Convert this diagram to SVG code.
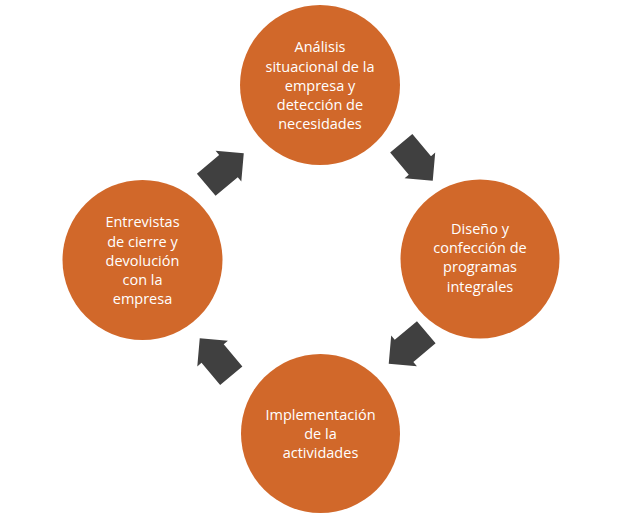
<svg xmlns="http://www.w3.org/2000/svg" width="623" height="520" viewBox="0 0 623 520">
<style>
.node circle{fill:#D1682A}
.node text{font-family:"Open Sans","Liberation Sans",sans-serif;font-size:14.5px;fill:#FFFFFF;text-anchor:middle}
.arrow{fill:#404040}
</style>
<defs>
<path id="arr" d="M-24.5,-14.5 L4.5,-14.5 L4.5,-20 L24.5,0 L4.5,20 L4.5,14.5 L-24.5,14.5 Z"/>
</defs>
<rect width="623" height="520" fill="#FFFFFF"/>
<g id="connectors">
<use href="#arr" class="arrow" transform="translate(225,169) rotate(-40)"/>
<use href="#arr" class="arrow" transform="translate(417,162) rotate(50)"/>
<use href="#arr" class="arrow" transform="translate(407.5,348) rotate(140)"/>
<use href="#arr" class="arrow" transform="translate(215.5,357) rotate(230)"/>
</g>
<g id="node-analisis" class="node">
<circle cx="320" cy="85" r="80"/>
<text x="320" y="52.3">Análisis</text>
<text x="320" y="71.5">situacional de la</text>
<text x="320" y="90.7">empresa y</text>
<text x="320" y="109.9">detección de</text>
<text x="320" y="129.1">necesidades</text>
</g>
<g id="node-diseno" class="node">
<circle cx="480" cy="259" r="79.5"/>
<text x="480" y="234">Diseño y</text>
<text x="480" y="253.2">confección de</text>
<text x="480" y="272.4">programas</text>
<text x="480" y="291.6">integrales</text>
</g>
<g id="node-implementacion" class="node">
<circle cx="320.5" cy="433.5" r="79.5"/>
<text x="320.5" y="420">Implementación</text>
<text x="320.5" y="439.2">de la</text>
<text x="320.5" y="458.4">actividades</text>
</g>
<g id="node-entrevistas" class="node">
<circle cx="142.5" cy="260" r="80"/>
<text x="142.5" y="227.3">Entrevistas</text>
<text x="142.5" y="246.5">de cierre y</text>
<text x="142.5" y="265.7">devolución</text>
<text x="142.5" y="284.9">con la</text>
<text x="142.5" y="304.1">empresa</text>
</g>
</svg>
